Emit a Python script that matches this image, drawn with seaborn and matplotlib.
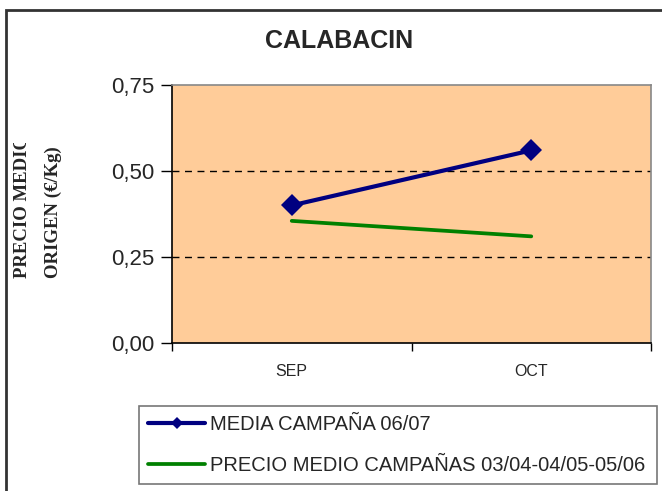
import pandas as pd
import matplotlib
matplotlib.use("Agg")
import matplotlib.pyplot as plt
import matplotlib.patches as patches
import seaborn as sns

# Data
meses = ["SEP", "OCT"]
media_0607 = [0.40, 0.56]
media_campanas = [0.355, 0.31]
serie_1 = "MEDIA CAMPAÑA 06/07"
serie_2 = "PRECIO MEDIO CAMPAÑAS 03/04-04/05-05/06"
y_ticks = [0.0, 0.25, 0.50, 0.75]
y_labels = ["0,00", "0,25", "0,50", "0,75"]

df1 = pd.DataFrame({"Mes": meses, "Precio": media_0607})
df2 = pd.DataFrame({"Mes": meses, "Precio": media_campanas})

sns.set_style("white")
plt.rcParams["font.family"] = ["Liberation Sans", "DejaVu Sans"]

fig = plt.figure(figsize=(6.62, 4.91), dpi=100)
W, H = 662, 491
ax = fig.add_axes([172 / W, 1 - 343 / H, (651 - 172) / W, (343 - 85) / H])
ax.set_facecolor("#FFCC99")

sns.lineplot(data=df1, x="Mes", y="Precio", color="#000080", marker="D",
             linewidth=3, markersize=11, markeredgewidth=0, label=serie_1, ax=ax)
sns.lineplot(data=df2, x="Mes", y="Precio", color="#008000",
             linewidth=2.7, label=serie_2, ax=ax)

# Axes limits and ticks
ax.set_xlim(-0.5, 1.5)
ax.set_ylim(0, 0.75)
ax.set_yticks(y_ticks)
ax.set_yticklabels(y_labels, fontsize=16)
ax.set_xticks([0, 1])
ax.set_xticklabels(meses, fontsize=11.5)
ax.set_xticks([-0.5, 0.5, 1.5], minor=True)
ax.tick_params(axis="x", which="major", length=0, pad=15)
ax.tick_params(axis="x", which="minor", length=6, width=1, color="black", direction="out", bottom=True)
ax.tick_params(axis="y", length=8, width=1, color="black", direction="out", left=True, pad=5)
ax.set_xlabel("")
ax.set_ylabel("")

for yv in [0.25, 0.50]:
    ax.axhline(yv, color="black", linewidth=1, linestyle=(0, (5, 4)), zorder=1)

ax.spines["left"].set_color("black")
ax.spines["bottom"].set_color("black")
ax.spines["top"].set_color("#888888")
ax.spines["right"].set_color("#888888")
for s in ax.spines.values():
    s.set_linewidth(1.2)
    s.set_visible(True)

# Title
fig.text(339 / W, 1 - 41 / H, "CALABACIN", fontsize=18, fontweight="bold",
         ha="center", va="center")

# Y-axis label (two lines, first one clipped as in the original)
clip = patches.Rectangle((0, 0), 1, 1 - 143 / H, transform=fig.transFigure)
t1 = fig.text(23 / W, 1 - 278 / H, "PRECIO MEDIO", rotation=90, ha="center", va="bottom",
              fontsize=13.5, fontweight="bold", family="Liberation Serif")
t1.set_clip_path(clip)
t1.set_clip_on(True)
fig.text(53 / W, 1 - 278 / H, "ORIGEN (€/Kg)", rotation=90, ha="center", va="bottom",
         fontsize=13.5, fontweight="bold", family="Liberation Serif")

# Legend
handles, labels = ax.get_legend_handles_labels()
ax.get_legend().remove()
leg = fig.legend(handles, labels, loc="lower left",
                 bbox_to_anchor=(139 / W, 1 - 484 / H, (657 - 139) / W, (484 - 403) / H),
                 mode="expand", borderaxespad=0, fontsize=14.5, frameon=True,
                 fancybox=False, edgecolor="#555555", handlelength=2.85,
                 handletextpad=0.25, borderpad=0.45, labelspacing=1.1,
                 markerscale=0.6)
leg.get_frame().set_linewidth(1.2)

# Outer chart border (cropped on right and bottom)
fig.patches.append(patches.Rectangle((6 / W, -0.2), 1.2, 1 - 10 / H + 0.2,
                                     transform=fig.transFigure, fill=False,
                                     edgecolor="#333333", linewidth=2))

fig.savefig("out.png", dpi=100)
